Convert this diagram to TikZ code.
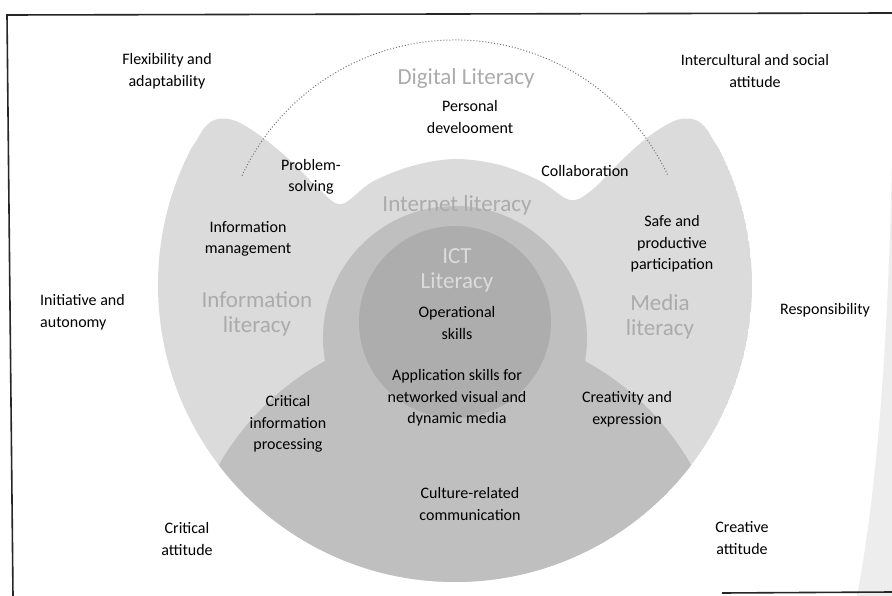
\documentclass[tikz,border=0pt]{standalone}
\usepackage{fontspec}
\setmainfont{Carlito}
\begin{document}
\begin{tikzpicture}[x=1pt,y=-1pt,
  lbl/.style={align=center, font=\fontsize{16}{21.5}\selectfont, text=black, inner sep=0pt},
  big/.style={align=center, font=\fontsize{23}{25}\selectfont, text=black!33, inner sep=0pt},
  framerule/.style={line width=1.6pt, draw=black!85},
  dlring/.style={draw=black!55, dotted, line width=1pt}]

% page
\useasboundingbox (0,0) rectangle (892,596);
\fill[white] (0,0) rectangle (892,596);

% faint sliver along the right edge
\fill[black!7] (892,160) .. controls (889,300) and (881,470) .. (857,596) -- (892,596) -- cycle;

% shaded literacy areas, open at the top
\begin{scope}
  \clip (-10,600) -- (-10,200) -- plot[smooth, tension=0.55] coordinates {
    (150,200) (190,150) (205,127) (218,119) (236,121) (262,137) (292,162)
    (322,192) (342,204) (372,182) (412,166) (455,159) (500,165) (540,181)
    (570,200) (592,190) (622,160) (648,137) (674,121) (692,119) (705,127)
    (720,150) (760,200)} -- (900,200) -- (900,600) -- cycle;
  \clip (455,285) circle[radius=297];
  % information and media literacy (outer light area)
  \fill[black!14] (455,285) circle[radius=297];
  % internet literacy core and lower band
  \fill[black!25] (455,338) circle[radius=132];
  \fill[black!25] (455,600) circle[radius=272];
  % ICT literacy
  \fill[black!32] (455,322) circle[radius=96];
\end{scope}

% digital literacy outline
\draw[dlring] ([shift={(205:235)}]455,275) arc[start angle=205, end angle=335, radius=235];

% labels
\node[lbl] (flex) at (167,71) {Flexibility and\\adaptability};
\node[big] (dig) at (466,78) {Digital Literacy};
\node[lbl] (inter) at (755,71) {Intercultural and social\\attitude};
\node[lbl] (pers) at (470,117) {Personal\\develooment};
\node[lbl] (prob) at (311,177) {Problem-\\solving};
\node[lbl] (collab) at (585,171) {Collaboration};
\node[big] (inet) at (457,205) {Internet literacy};
\node[lbl] (infomgmt) at (248,239) {Information\\management};
\node[lbl] (safe) at (672,244) {Safe and\\productive\\participation};
\node[big, text=black!14] (ict) at (457,270) {ICT\\Literacy};
\node[lbl, anchor=west, align=left] (init) at (40,312) {Initiative and\\autonomy};
\node[big] (infolit) at (257,314) {Information\\literacy};
\node[lbl] (oper) at (457,323) {Operational\\skills};
\node[big] (medlit) at (660,317) {Media\\literacy};
\node[lbl] (resp) at (825,310) {Responsibility};
\node[lbl] (appl) at (457,398) {Application skills for\\networked visual and\\dynamic media};
\node[lbl] (critinfo) at (288,424) {Critical\\information\\processing};
\node[lbl] (creat) at (627,409) {Creativity and\\expression};
\node[lbl] (cult) at (470,504) {Culture-related\\communication};
\node[lbl] (critatt) at (187,539) {Critical\\attitude};
\node[lbl] (creatatt) at (742,538) {Creative\\attitude};

% frame
\coordinate (ftl) at (7,15);
\coordinate (ftr) at (892,13);
\coordinate (fbl) at (13,596);
\coordinate (fbm) at (722,593);
\coordinate (fbr) at (892,592);
\draw[framerule] (ftr) -- (ftl) -- (fbl);
\draw[framerule] (fbm) -- (fbr);
\end{tikzpicture}
\end{document}
